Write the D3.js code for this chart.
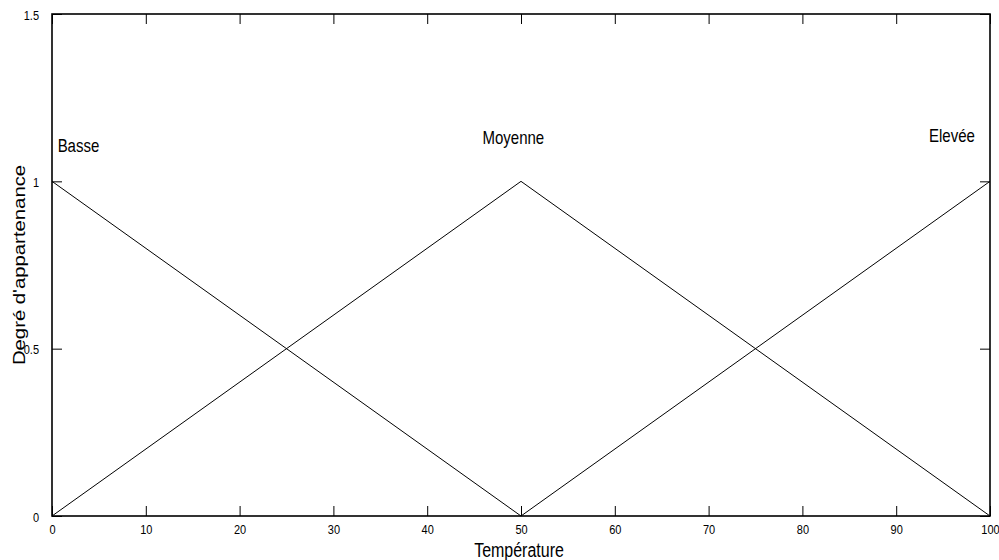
<!DOCTYPE html>
<html>
<head>
<meta charset="utf-8">
<title>Degré d'appartenance</title>
<script src="https://d3js.org/d3.v7.min.js"></script>
<style>
  body { margin: 0; background: #fff; }
  text { font-family: "Liberation Sans", Arial, sans-serif; fill: #000; }
</style>
</head>
<body>
<div id="chart"></div>
<script>
// membership functions (température -> degré)
let basse   = [[0, 1], [50, 0]];
let moyenne = [[0, 0], [50, 1], [100, 0]];
let elevee  = [[50, 0], [100, 1]];

let labels = ["Basse", "Moyenne", "Elevée"];
let labelPos = [[0.6, 1.087], [45.9, 1.113], [93.5, 1.119]];

let xTicks = [0, 10, 20, 30, 40, 50, 60, 70, 80, 90, 100];
let yTicks = [0, 0.5, 1, 1.5];

let margin = {top: 14, right: 9, bottom: 44, left: 52};
let W = 999, H = 560;
let w = W - margin.left - margin.right;
let h = H - margin.top - margin.bottom;
let sy = 1.27; // picture was stretched vertically, text too

let svg = d3.select("#chart").append("svg")
  .attr("width", W).attr("height", H);
let g = svg.append("g")
  .attr("transform", "translate(" + margin.left + "," + margin.top + ")");

let x = d3.scaleLinear().domain([0, 100]).range([0, w]);
let y = d3.scaleLinear().domain([0, 1.5]).range([h, 0]);

// axes, ticks pointing inwards, mirrored on top/right
let tl = 10;
g.append("g").attr("class", "xb").attr("transform", "translate(0," + h + ")")
  .call(d3.axisBottom(x).tickValues(xTicks).tickSizeInner(-tl).tickSizeOuter(0).tickPadding(tl + 4));
g.append("g")
  .call(d3.axisTop(x).tickValues(xTicks).tickSizeInner(-tl).tickSizeOuter(0).tickFormat(""));
g.append("g").attr("class", "yl")
  .call(d3.axisLeft(y).tickValues(yTicks).tickSizeInner(-tl).tickSizeOuter(0).tickPadding(tl + 3)
    .tickFormat(d3.format("")));
g.append("g").attr("transform", "translate(" + w + ",0)")
  .call(d3.axisRight(y).tickValues(yTicks).tickSizeInner(-tl).tickSizeOuter(0).tickFormat(""));

g.selectAll(".domain").remove();
g.selectAll(".tick line").attr("stroke", "#000").attr("stroke-width", 1);
g.selectAll(".tick text").attr("font-size", "11px")
  .attr("font-family", "Liberation Sans, Arial, sans-serif");
// stretch tick labels a little vertically
g.selectAll(".xb .tick text").each(function() {
  let t = d3.select(this);
  let yy = +t.attr("y");
  t.attr("y", null).attr("dy", null)
    .attr("transform", "translate(0," + (yy + 4) + ") scale(1,1.15)");
});
g.selectAll(".yl .tick text").each(function() {
  let t = d3.select(this);
  let xx = +t.attr("x");
  t.attr("x", null).attr("dy", null)
    .attr("transform", "translate(" + xx + ",5) scale(1,1.15)");
});

g.append("rect").attr("width", w).attr("height", h)
  .attr("fill", "none").attr("stroke", "#000").attr("stroke-width", 1.6);

let line = d3.line().x(d => x(d[0])).y(d => y(d[1]));
[basse, moyenne, elevee].forEach(s => {
  g.append("path").datum(s).attr("d", line)
    .attr("fill", "none").attr("stroke", "#000").attr("stroke-width", 1);
});

g.selectAll(".lbl").data(labels).enter().append("text")
  .attr("class", "lbl")
  .attr("transform", (d, i) =>
    "translate(" + x(labelPos[i][0]) + "," + y(labelPos[i][1]) + ") scale(1," + sy + ")")
  .attr("font-size", "15px")
  .text(d => d);

svg.append("text")
  .attr("transform", "translate(" + (margin.left + w / 2 - 2) + ",557) scale(1," + sy + ")")
  .attr("text-anchor", "middle").attr("font-size", "16px")
  .text("Température");

svg.append("text")
  .attr("transform", "translate(25,265) scale(1," + sy + ") rotate(-90)")
  .attr("text-anchor", "middle").attr("font-size", "16px")
  .text("Degré d'appartenance");
</script>
</body>
</html>
